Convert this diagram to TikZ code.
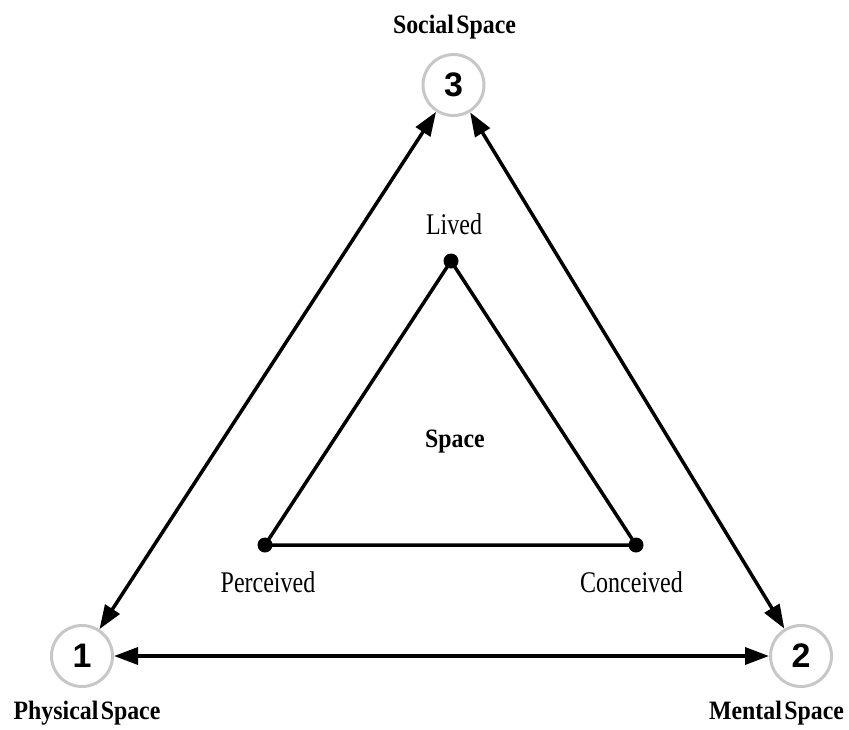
\documentclass[tikz,border=0pt]{standalone}
\usepackage{fontspec}
\usetikzlibrary{arrows.meta}
\newfontfamily\termfont[FakeStretch=0.8]{Liberation Serif}
\newfontfamily\headfont[FakeStretch=0.9,WordSpace=0.4]{Liberation Serif}
\newfontfamily\digitfont{Liberation Sans}
\begin{document}
\begin{tikzpicture}[x=1pt,y=-1pt,
  spacecircle/.style={circle,draw=black!22,line width=3pt,minimum size=61pt,inner sep=0pt,
    font=\digitfont\bfseries\fontsize{34}{34}\selectfont},
  relation/.style={line width=3.5pt,{Triangle[length=24pt,width=17pt]}-{Triangle[length=24pt,width=17pt]}},
  edge/.style={line width=3.5pt},
  moment/.style={circle,fill=black,minimum size=15pt,inner sep=0pt},
  term/.style={anchor=base,inner sep=0pt,font=\termfont\fontsize{30}{30}\selectfont},
  head/.style={anchor=base,inner sep=0pt,font=\headfont\bfseries\fontsize{26.5}{26.5}\selectfont}]
\useasboundingbox (0,0) rectangle (849,729);

% outer triad of spaces
\node[spacecircle] (phys) at (82,656) {1};
\node[spacecircle] (ment) at (801,656) {2};
\node[spacecircle] (soc)  at (453.5,85) {3};

\draw[relation] (phys) -- (soc);
\draw[relation] (soc) -- (ment);
\draw[relation] (phys) -- (ment);

\node[head] (socl)  at (454.5,33) {Social Space};
\node[head] (physl) at (87,719) {Physical Space};
\node[head] (mentl) at (776.5,719) {Mental Space};

% inner triad of moments
\node[moment] (lived) at (451,261) {};
\node[moment] (perc)  at (265,545) {};
\node[moment] (conc)  at (636,545) {};
\draw[edge] (lived.center) -- (perc.center) -- (conc.center) -- cycle;

\node[term] (livedl) at (454,234) {Lived};
\node[term] (percl)  at (268,592) {Perceived};
\node[term] (concl)  at (631.5,592) {Conceived};
\node[head] (space)  at (455,447) {Space};
\end{tikzpicture}
\end{document}
